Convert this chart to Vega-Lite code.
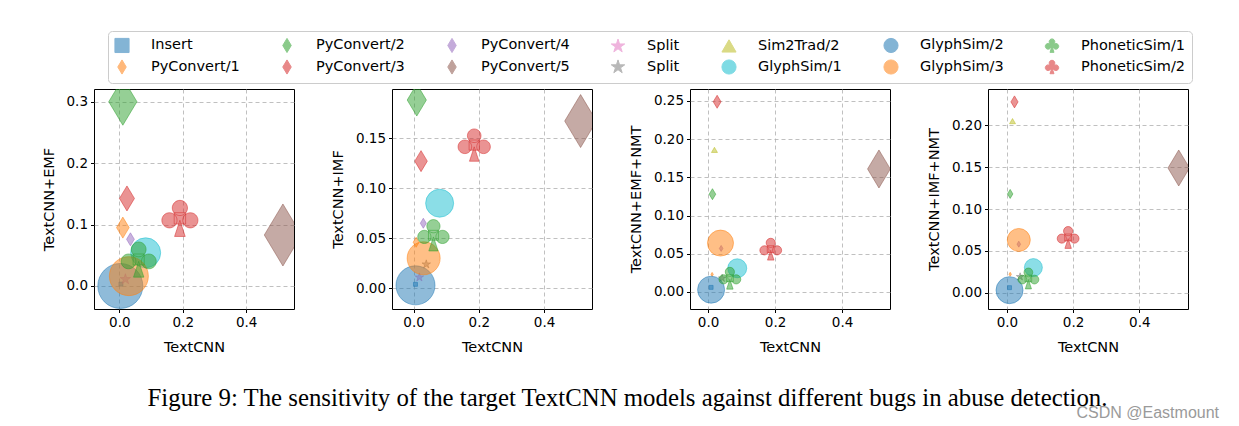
{
  "$schema": "https://vega.github.io/schema/vega-lite/v6.json",
  "padding": {"left": 40, "top": 30, "right": 5, "bottom": 5},
  "background": "white",
  "config": {
    "font": "DejaVu Sans",
    "view": {"stroke": "black", "strokeWidth": 1},
    "axis": {
      "domain": false, "grid": true, "gridColor": "#b0b0b0", "gridDash": [4, 3], "gridWidth": 0.8,
      "tickColor": "black", "tickSize": 3.5, "tickWidth": 1,
      "labelFont": "DejaVu Sans", "labelFontSize": 13.5, "labelColor": "black", "labelPadding": 3,
      "titleFont": "DejaVu Sans", "titleFontSize": 14.5, "titleFontWeight": "normal", "titleColor": "black"
    },
    "axisX": {"titlePadding": 11},
    "axisY": {"titlePadding": 10}
  },
  "datasets": {
    "pts": [
      {"panel": "EMF", "series": "Insert", "x": 0.005, "y": 0.003, "w": 0.16},
      {"panel": "EMF", "series": "PyConvert/1", "x": 0.011, "y": 0.095, "w": 4.41},
      {"panel": "EMF", "series": "PyConvert/2", "x": 0.011, "y": 0.300, "w": 22.09},
      {"panel": "EMF", "series": "PyConvert/3", "x": 0.024, "y": 0.1425, "w": 6.25},
      {"panel": "EMF", "series": "PyConvert/4", "x": 0.035, "y": 0.076, "w": 1.69},
      {"panel": "EMF", "series": "PyConvert/5", "x": 0.516, "y": 0.083, "w": 38.44},
      {"panel": "EMF", "series": "Split", "x": 0.019, "y": 0.011, "w": 1.21},
      {"panel": "EMF", "series": "GlyphSim/1", "x": 0.083, "y": 0.054, "w": 9.0},
      {"panel": "EMF", "series": "GlyphSim/2", "x": 0.003, "y": 0.0, "w": 20.25},
      {"panel": "EMF", "series": "GlyphSim/3", "x": 0.030, "y": 0.016, "w": 15.21},
      {"panel": "EMF", "series": "PhoneticSim/1", "x": 0.061, "y": 0.043, "w": 13.69},
      {"panel": "EMF", "series": "PhoneticSim/2", "x": 0.191, "y": 0.110, "w": 14.44},

      {"panel": "IMF", "series": "Insert", "x": 0.006, "y": 0.004, "w": 0.16},
      {"panel": "IMF", "series": "PyConvert/1", "x": 0.008, "y": 0.046, "w": 1.0},
      {"panel": "IMF", "series": "PyConvert/2", "x": 0.010, "y": 0.188, "w": 10.24},
      {"panel": "IMF", "series": "PyConvert/3", "x": 0.023, "y": 0.127, "w": 4.41},
      {"panel": "IMF", "series": "PyConvert/4", "x": 0.030, "y": 0.065, "w": 1.0},
      {"panel": "IMF", "series": "PyConvert/5", "x": 0.512, "y": 0.167, "w": 28.09},
      {"panel": "IMF", "series": "Split", "x": 0.018, "y": 0.011, "w": 0.81},
      {"panel": "IMF", "series": "Split2", "x": 0.039, "y": 0.024, "w": 0.81},
      {"panel": "IMF", "series": "GlyphSim/1", "x": 0.080, "y": 0.085, "w": 7.84},
      {"panel": "IMF", "series": "GlyphSim/2", "x": 0.006, "y": 0.003, "w": 15.21},
      {"panel": "IMF", "series": "GlyphSim/3", "x": 0.031, "y": 0.030, "w": 10.89},
      {"panel": "IMF", "series": "PhoneticSim/1", "x": 0.061, "y": 0.053, "w": 10.89},
      {"panel": "IMF", "series": "PhoneticSim/2", "x": 0.186, "y": 0.143, "w": 11.56},

      {"panel": "EMF+NMT", "series": "Insert", "x": 0.009, "y": 0.006, "w": 0.16},
      {"panel": "EMF+NMT", "series": "PyConvert/1", "x": 0.012, "y": 0.023, "w": 0.16},
      {"panel": "EMF+NMT", "series": "PyConvert/2", "x": 0.013, "y": 0.128, "w": 1.21},
      {"panel": "EMF+NMT", "series": "PyConvert/3", "x": 0.027, "y": 0.249, "w": 1.69},
      {"panel": "EMF+NMT", "series": "PyConvert/4", "x": 0.039, "y": 0.057, "w": 0.36},
      {"panel": "EMF+NMT", "series": "PyConvert/5", "x": 0.510, "y": 0.161, "w": 14.44},
      {"panel": "EMF+NMT", "series": "Split2", "x": 0.042, "y": 0.018, "w": 0.64},
      {"panel": "EMF+NMT", "series": "Sim2Trad/2", "x": 0.019, "y": 0.186, "w": 0.36},
      {"panel": "EMF+NMT", "series": "GlyphSim/1", "x": 0.087, "y": 0.031, "w": 3.61},
      {"panel": "EMF+NMT", "series": "GlyphSim/2", "x": 0.009, "y": 0.003, "w": 7.29},
      {"panel": "EMF+NMT", "series": "GlyphSim/3", "x": 0.037, "y": 0.064, "w": 6.76},
      {"panel": "EMF+NMT", "series": "PhoneticSim/1", "x": 0.065, "y": 0.018, "w": 5.29},
      {"panel": "EMF+NMT", "series": "PhoneticSim/2", "x": 0.187, "y": 0.056, "w": 5.29},

      {"panel": "IMF+NMT", "series": "Insert", "x": 0.008, "y": 0.006, "w": 0.16},
      {"panel": "IMF+NMT", "series": "PyConvert/1", "x": 0.010, "y": 0.022, "w": 0.16},
      {"panel": "IMF+NMT", "series": "PyConvert/2", "x": 0.010, "y": 0.118, "w": 0.81},
      {"panel": "IMF+NMT", "series": "PyConvert/3", "x": 0.023, "y": 0.228, "w": 1.44},
      {"panel": "IMF+NMT", "series": "PyConvert/4", "x": 0.036, "y": 0.058, "w": 0.36},
      {"panel": "IMF+NMT", "series": "PyConvert/5", "x": 0.519, "y": 0.149, "w": 12.96},
      {"panel": "IMF+NMT", "series": "Split2", "x": 0.040, "y": 0.019, "w": 0.64},
      {"panel": "IMF+NMT", "series": "Sim2Trad/2", "x": 0.017, "y": 0.205, "w": 0.36},
      {"panel": "IMF+NMT", "series": "GlyphSim/1", "x": 0.080, "y": 0.030, "w": 3.24},
      {"panel": "IMF+NMT", "series": "GlyphSim/2", "x": 0.008, "y": 0.003, "w": 7.29},
      {"panel": "IMF+NMT", "series": "GlyphSim/3", "x": 0.036, "y": 0.063, "w": 5.29},
      {"panel": "IMF+NMT", "series": "PhoneticSim/1", "x": 0.065, "y": 0.017, "w": 4.84},
      {"panel": "IMF+NMT", "series": "PhoneticSim/2", "x": 0.185, "y": 0.066, "w": 5.29}
    ]
  },
  "title": {
    "text": "CSDN @Eastmount", "orient": "bottom", "anchor": "start",
    "font": "Liberation Sans", "fontSize": 16, "fontWeight": "normal", "color": "#9a9a9a",
    "offset": -6, "dx": 1036
  },
  "vconcat": [
    {
      "title": {
        "text": "Figure 9: The sensitivity of the target TextCNN models against different bugs in abuse detection.",
        "orient": "bottom", "anchor": "middle", "font": "Liberation Serif", "fontSize": 24.8,
        "fontWeight": "normal", "color": "black", "offset": 32, "dx": 13
      },
      "spacing": 98,
      "bounds": "flush",
      "hconcat": [
        {
          "width": 200, "height": 220,
          "data": {"name": "pts"},
          "transform": [{"filter": "datum.panel == 'EMF'"}],
          "mark": {"type": "point", "filled": true, "fillOpacity": 0.5, "strokeOpacity": 0.5, "strokeWidth": 1, "clip": true},
          "encoding": {
            "x": {"field": "x", "type": "quantitative", "scale": {"domain": [-0.08, 0.551], "nice": false, "zero": false}, "axis": {"values": [0, 0.2, 0.4], "format": ".1f", "title": "TextCNN"}},
            "y": {"field": "y", "type": "quantitative", "scale": {"domain": [-0.0375, 0.3207], "nice": false, "zero": false}, "axis": {"values": [0, 0.1, 0.2, 0.3], "format": ".1f", "title": "TextCNN+EMF"}},
            "color": {"field": "series", "type": "nominal",
              "scale": {
                "domain": ["Insert", "PyConvert/1", "PyConvert/2", "PyConvert/3", "PyConvert/4", "PyConvert/5", "Split", "Split2", "Sim2Trad/2", "GlyphSim/1", "GlyphSim/2", "GlyphSim/3", "PhoneticSim/1", "PhoneticSim/2"],
                "range": ["#1f77b4", "#ff7f0e", "#2ca02c", "#d62728", "#9467bd", "#8c564b", "#e377c2", "#7f7f7f", "#bcbd22", "#17becf", "#1f77b4", "#ff7f0e", "#2ca02c", "#d62728"]
              },
              "legend": {
                "orient": "none", "legendX": 14, "legendY": -58, "columns": 7, "title": null,
                "labelExpr": "datum.label == 'Split2' ? 'Split' : datum.label",
                "symbolSize": 200, "labelFont": "DejaVu Sans", "labelFontSize": 14.5, "labelColor": "black",
                "columnPadding": 39, "rowPadding": 2, "padding": 6, "labelOffset": 21,
                "strokeColor": "#cccccc", "fillColor": "white", "cornerRadius": 4,
                "symbolOpacity": 0.55, "symbolStrokeWidth": 1
              }
            },
            "stroke": {"field": "series", "type": "nominal",
              "scale": {
                "domain": ["Insert", "PyConvert/1", "PyConvert/2", "PyConvert/3", "PyConvert/4", "PyConvert/5", "Split", "Split2", "Sim2Trad/2", "GlyphSim/1", "GlyphSim/2", "GlyphSim/3", "PhoneticSim/1", "PhoneticSim/2"],
                "range": ["#1f77b4", "#ff7f0e", "#2ca02c", "#d62728", "#9467bd", "#8c564b", "#e377c2", "#7f7f7f", "#bcbd22", "#17becf", "#1f77b4", "#ff7f0e", "#2ca02c", "#d62728"]
              },
              "legend": null
            },
            "shape": {"field": "series", "type": "nominal",
              "scale": {
                "domain": ["Insert", "PyConvert/1", "PyConvert/2", "PyConvert/3", "PyConvert/4", "PyConvert/5", "Split", "Split2", "Sim2Trad/2", "GlyphSim/1", "GlyphSim/2", "GlyphSim/3", "PhoneticSim/1", "PhoneticSim/2"],
                "range": [
                  "square",
                  "M0,-1L0.6,0L0,1L-0.6,0Z",
                  "M0,-1L0.6,0L0,1L-0.6,0Z",
                  "M0,-1L0.6,0L0,1L-0.6,0Z",
                  "M0,-1L0.6,0L0,1L-0.6,0Z",
                  "M0,-1L0.6,0L0,1L-0.6,0Z",
                  "M0,-1L0.223,-0.307L0.951,-0.309L0.361,0.117L0.588,0.809L0,0.38L-0.588,0.809L-0.361,0.117L-0.951,-0.309L-0.223,-0.307Z",
                  "M0,-1L0.223,-0.307L0.951,-0.309L0.361,0.117L0.588,0.809L0,0.38L-0.588,0.809L-0.361,0.117L-0.951,-0.309L-0.223,-0.307Z",
                  "triangle-up",
                  "circle",
                  "circle",
                  "circle",
                  "M-0.4,-0.55A0.4,0.4 0 1,1 0.4,-0.55A0.4,0.4 0 1,1 -0.4,-0.55ZM-0.95,0.1A0.4,0.4 0 1,1 -0.15,0.1A0.4,0.4 0 1,1 -0.95,0.1ZM0.15,0.1A0.4,0.4 0 1,1 0.95,0.1A0.4,0.4 0 1,1 0.15,0.1ZM-0.3,-0.3L0.3,-0.3L0.3,0.3L-0.3,0.3ZM0,0.1L0.28,0.95L-0.28,0.95Z",
                  "M-0.4,-0.55A0.4,0.4 0 1,1 0.4,-0.55A0.4,0.4 0 1,1 -0.4,-0.55ZM-0.95,0.1A0.4,0.4 0 1,1 -0.15,0.1A0.4,0.4 0 1,1 -0.95,0.1ZM0.15,0.1A0.4,0.4 0 1,1 0.95,0.1A0.4,0.4 0 1,1 0.15,0.1ZM-0.3,-0.3L0.3,-0.3L0.3,0.3L-0.3,0.3ZM0,0.1L0.28,0.95L-0.28,0.95Z"
                ]
              }
            },
            "size": {"field": "w", "type": "quantitative", "scale": {"type": "linear", "domain": [0, 100], "range": [0, 10000]}, "legend": null}
          }
        },
        {
          "width": 200, "height": 220,
          "data": {"name": "pts"},
          "transform": [{"filter": "datum.panel == 'IMF'"}],
          "mark": {"type": "point", "filled": true, "fillOpacity": 0.5, "strokeOpacity": 0.5, "strokeWidth": 1, "clip": true},
          "encoding": {
            "x": {"field": "x", "type": "quantitative", "scale": {"domain": [-0.066, 0.547], "nice": false, "zero": false}, "axis": {"values": [0, 0.2, 0.4], "format": ".1f", "title": "TextCNN"}},
            "y": {"field": "y", "type": "quantitative", "scale": {"domain": [-0.0206, 0.199], "nice": false, "zero": false}, "axis": {"values": [0, 0.05, 0.1, 0.15], "format": ".2f", "title": "TextCNN+IMF"}},
            "color": {"field": "series", "type": "nominal"},
            "stroke": {"field": "series", "type": "nominal", "legend": null},
            "shape": {"field": "series", "type": "nominal"},
            "size": {"field": "w", "type": "quantitative", "legend": null}
          }
        },
        {
          "width": 200, "height": 220,
          "data": {"name": "pts"},
          "transform": [{"filter": "datum.panel == 'EMF+NMT'"}],
          "mark": {"type": "point", "filled": true, "fillOpacity": 0.5, "strokeOpacity": 0.5, "strokeWidth": 1, "clip": true},
          "encoding": {
            "x": {"field": "x", "type": "quantitative", "scale": {"domain": [-0.054, 0.543], "nice": false, "zero": false}, "axis": {"values": [0, 0.2, 0.4], "format": ".1f", "title": "TextCNN"}},
            "y": {"field": "y", "type": "quantitative", "scale": {"domain": [-0.0223, 0.2657], "nice": false, "zero": false}, "axis": {"values": [0, 0.05, 0.1, 0.15, 0.2, 0.25], "format": ".2f", "title": "TextCNN+EMF+NMT"}},
            "color": {"field": "series", "type": "nominal"},
            "stroke": {"field": "series", "type": "nominal", "legend": null},
            "shape": {"field": "series", "type": "nominal"},
            "size": {"field": "w", "type": "quantitative", "legend": null}
          }
        },
        {
          "width": 200, "height": 220,
          "data": {"name": "pts"},
          "transform": [{"filter": "datum.panel == 'IMF+NMT'"}],
          "mark": {"type": "point", "filled": true, "fillOpacity": 0.5, "strokeOpacity": 0.5, "strokeWidth": 1, "clip": true},
          "encoding": {
            "x": {"field": "x", "type": "quantitative", "scale": {"domain": [-0.057, 0.547], "nice": false, "zero": false}, "axis": {"values": [0, 0.2, 0.4], "format": ".1f", "title": "TextCNN"}},
            "y": {"field": "y", "type": "quantitative", "scale": {"domain": [-0.0195, 0.2434], "nice": false, "zero": false}, "axis": {"values": [0, 0.05, 0.1, 0.15, 0.2], "format": ".2f", "title": "TextCNN+IMF+NMT"}},
            "color": {"field": "series", "type": "nominal"},
            "stroke": {"field": "series", "type": "nominal", "legend": null},
            "shape": {"field": "series", "type": "nominal"},
            "size": {"field": "w", "type": "quantitative", "legend": null}
          }
        }
      ]
    }
  ]
}
